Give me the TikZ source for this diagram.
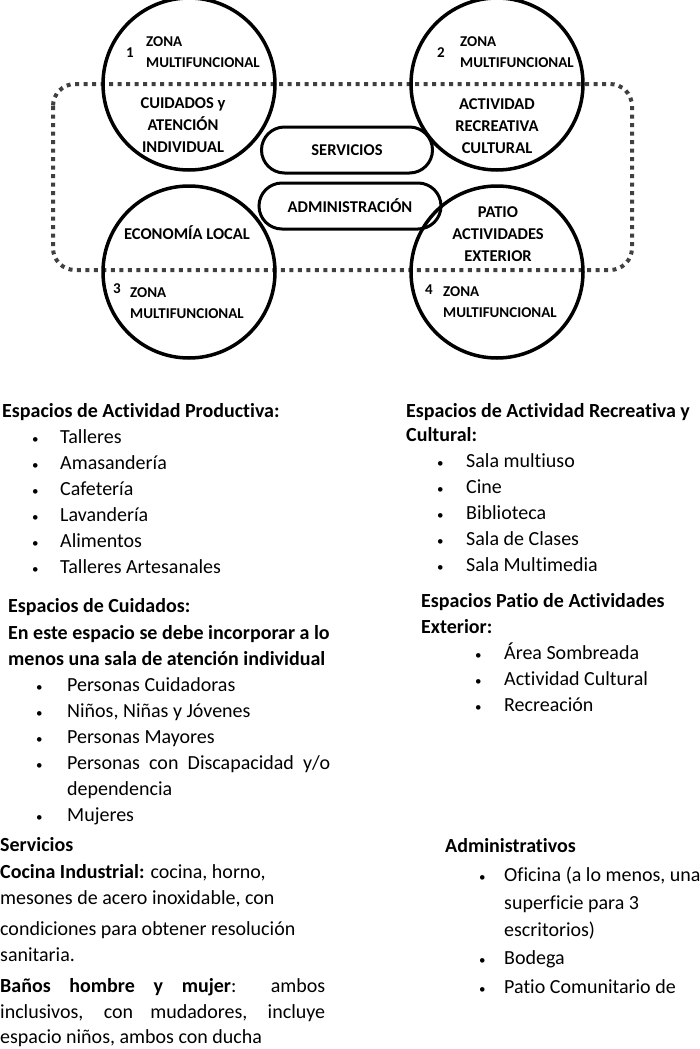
\documentclass[tikz,border=0pt]{standalone}
\usepackage{fontspec}
\setmainfont{Carlito}[Ligatures=NoCommon]
\definecolor{dashgray}{RGB}{64,64,64}
\usetikzlibrary{positioning}

\begin{document}
\begin{tikzpicture}[x=1pt,y=-1pt,
  zona/.style={circle,draw,line width=3.5pt,minimum size=172pt,inner sep=0pt},
  pill/.style={draw,line width=3pt,rounded corners=23pt,minimum height=46pt,
    inner sep=0pt,font=\bfseries\fontsize{16.5}{20}\selectfont},
  ztxt/.style={font=\bfseries\fontsize{16.5}{22}\selectfont,align=center,inner sep=0pt},
  znum/.style={font=\bfseries\fontsize{15}{18}\selectfont,inner sep=0pt},
  zhead/.style={font=\bfseries\fontsize{15}{21}\selectfont,align=left,inner sep=0pt,anchor=west},
  hd/.style={anchor=base west,inner sep=0pt,font=\bfseries\fontsize{20}{24}\selectfont},
  txt/.style={anchor=base west,inner sep=0pt,font=\fontsize{20}{24}\selectfont},
  bul/.style={anchor=base west,inner sep=0pt,font=\fontsize{13}{16}\selectfont}
]
\useasboundingbox (0,0) rectangle (700,1049);

% zone circles and dashed frame
\draw[dashgray,line width=4pt,dash pattern=on 4pt off 4.5pt,rounded corners=22pt]
  (53,84) rectangle (632,270);
\node[zona] (z1) at (189,84) {};
\node[zona] (z2) at (497,84) {};
\node[zona] (z3) at (189,272) {};
\node[zona] (z4) at (497,272) {};

\node[pill,minimum width=171pt] (serv) at (347,150) {SERVICIOS};
\node[pill,minimum width=182pt] (adm) at (350,206) {ADMINISTRACIÓN};

% zone labels
\node[znum] (n1) at (130,53) {1};
\node[zhead] (h1) at (146,52) {ZONA\\MULTIFUNCIONAL};
\node[ztxt] (t1) at (183,125) {CUIDADOS y\\ATENCIÓN\\INDIVIDUAL};
\node[znum] (n2) at (441,53) {2};
\node[zhead] (h2) at (460,52) {ZONA\\MULTIFUNCIONAL};
\node[ztxt] (t2) at (497,126) {ACTIVIDAD\\RECREATIVA\\CULTURAL};
\node[ztxt] (t3) at (187,233) {ECONOMÍA LOCAL};
\node[znum] (n3) at (117,289) {3};
\node[zhead] (h3) at (130,303) {ZONA\\MULTIFUNCIONAL};
\node[ztxt] (t4) at (498,234) {PATIO\\ACTIVIDADES\\EXTERIOR};
\node[znum] (n4) at (429,290) {4};
\node[zhead] (h4) at (443,302) {ZONA\\MULTIFUNCIONAL};

% left column
\node[hd] (prodh) at (2,417) {Espacios de Actividad Productiva:};
\foreach \t [count=\i] in {Talleres,Amasandería,Cafetería,Lavandería,Alimentos,Talleres Artesanales} {
  \node[bul] (pb\i) at (32,{443+26*(\i-1)}) {\textbullet};
  \node[txt] (p\i) at (60,{443+26*(\i-1)}) {\t};
}
\node[hd] (cuih) at (8,612) {Espacios de Cuidados:};
\node[hd] (cui1) at (8,639) {En este espacio se debe incorporar a lo};
\node[hd] (cui2) at (8,665) {menos una sala de atención individual};
\foreach \t/\yy [count=\i] in {Personas Cuidadoras/691,Niños{,} Niñas y Jóvenes/717,Personas Mayores/743,
    \makebox[263pt][s]{Personas con Discapacidad y/o}/769,Mujeres/821} {
  \node[bul] (cb\i) at (36,\yy) {\textbullet};
  \node[txt] (c\i) at (67,\yy) {\t};
}
\node[txt] (cdep) at (67,795) {dependencia};

\node[hd] (servh) at (0,851) {Servicios};
\node[txt] (s1) at (0,878) {\textbf{Cocina Industrial:} cocina, horno,};
\node[txt] (s2) at (0,904) {mesones de acero inoxidable, con};
\node[txt] (s3) at (0,935) {condiciones para obtener resolución};
\node[txt] (s4) at (0,961) {sanitaria.};
\node[txt] (s5) at (0,992) {\makebox[325pt][s]{\textbf{Baños hombre y mujer}: ambos}};
\node[txt] (s6) at (0,1018) {\makebox[325pt][s]{inclusivos, con mudadores, incluye}};
\node[txt] (s7) at (0,1043) {espacio niños, ambos con ducha};

% right column
\node[hd] (rech) at (406,417) {Espacios de Actividad Recreativa y};
\node[hd] (rech2) at (406,441) {Cultural:};
\foreach \t [count=\i] in {Sala multiuso,Cine,Biblioteca,Sala de Clases,Sala Multimedia} {
  \node[bul] (rb\i) at (437,{467+26*(\i-1)}) {\textbullet};
  \node[txt] (r\i) at (466,{467+26*(\i-1)}) {\t};
}
\node[hd] (path) at (421,607) {Espacios Patio de Actividades};
\node[hd] (path2) at (421,633) {Exterior:};
\foreach \t [count=\i] in {Área Sombreada,Actividad Cultural,Recreación} {
  \node[bul] (eb\i) at (475,{659+26*(\i-1)}) {\textbullet};
  \node[txt] (e\i) at (504,{659+26*(\i-1)}) {\t};
}
\node[hd] (admh) at (445,852) {Administrativos};
\node[bul] (ab1) at (479,881) {\textbullet};
\node[txt] (a1) at (504,881) {Oficina (a lo menos, una};
\node[txt] (a1b) at (504,909) {superficie para 3};
\node[txt] (a1c) at (504,936) {escritorios)};
\node[bul] (ab2) at (479,964) {\textbullet};
\node[txt] (a2) at (504,964) {Bodega};
\node[bul] (ab3) at (479,993) {\textbullet};
\node[txt] (a3) at (504,993) {Patio Comunitario de};
\end{tikzpicture}
\end{document}
